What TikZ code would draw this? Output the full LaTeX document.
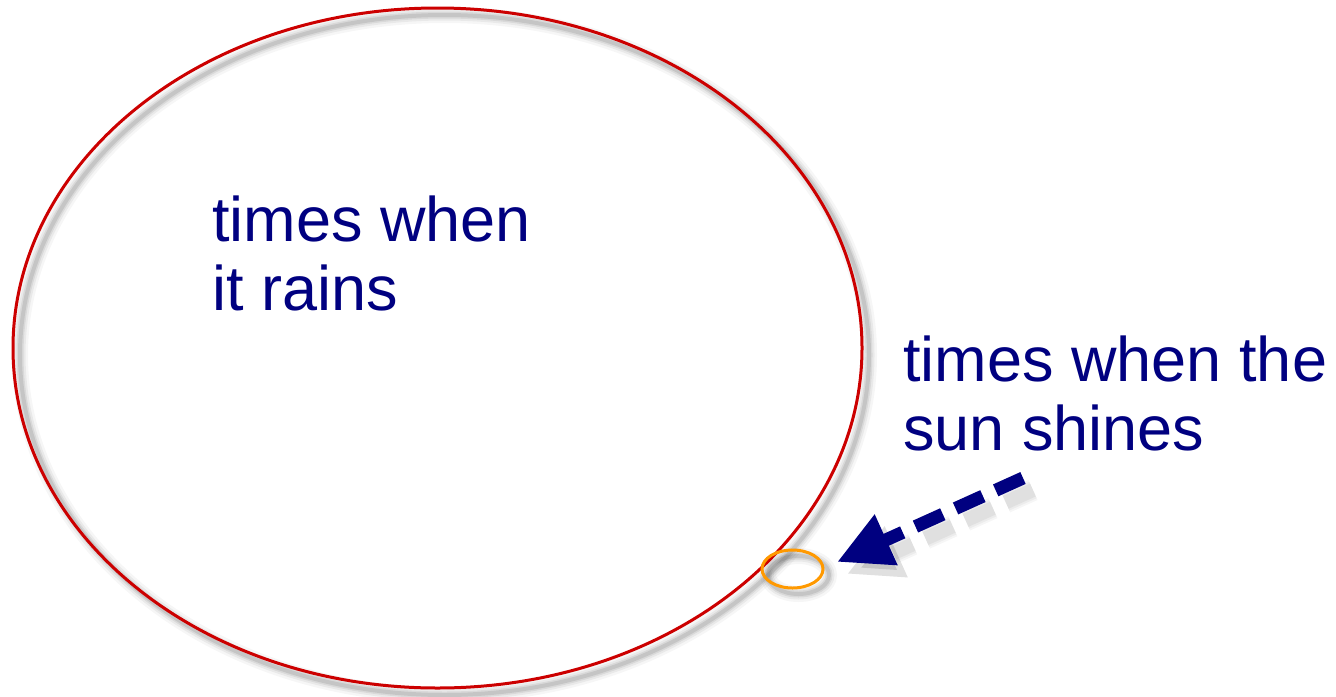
\documentclass[tikz,border=0pt]{standalone}
\usepackage{fontspec}
\setmainfont{Liberation Sans}
\usetikzlibrary{shapes.geometric,arrows.meta}
\definecolor{navyblue}{HTML}{000080}
\definecolor{ringred}{HTML}{CC0000}
\definecolor{sunorange}{HTML}{FF9900}
\begin{document}
\begin{tikzpicture}[x=0.5pt,y=-0.5pt,
  lbl/.style={text=navyblue, font=\fontsize{31.5pt}{34.5pt}\selectfont, align=left, inner sep=0pt, anchor=base west},
  ringbox/.style={ellipse, draw=ringred, line width=1.5pt, minimum width=424.5pt, minimum height=340pt, inner sep=0pt},
  sunbox/.style={ellipse, draw=sunorange, line width=1.5pt, minimum width=30.5pt, minimum height=19pt, inner sep=0pt},
  soft/.style={draw=black, opacity=#1},
  pointer/.style={navyblue, line width=6.5pt, dash pattern=on 15pt off 7pt, -{Triangle[length=27pt,width=26pt]}}
]
\useasboundingbox (0,0) rectangle (1336,696);
% shadows
\foreach \w/\o in {8/0.035, 5.5/0.05, 3.5/0.07, 2/0.09}{
  \draw[soft=\o, line width=\w pt] (444.5,355) ellipse [x radius=212.25pt, y radius=170pt];
  \draw[soft=\o, line width=\w pt] (798.5,575) ellipse [x radius=15.25pt, y radius=9.5pt];
}
\coordinate (tail) at (1023,478);
\coordinate (tip) at (837,562);
\foreach \w/\o in {11/0.035, 9/0.04, 7/0.05}{
  \draw[soft=\o, line width=\w pt, dash pattern=on 15pt off 7pt, -{Triangle[length=27pt,width=26pt]}] ([shift={(10,12)}]tail) -- ([shift={(10,12)}]tip);
}
% main shapes
\node[ringbox] (rain) at (437.5,348) {};
\node[sunbox] (sun) at (792.5,569) {};
\draw[pointer] (tail) -- (tip);
% labels
\node[lbl] (raintext) at (212,310) {times when\\it rains};
\node[lbl] (suntext) at (903,450) {times when the\\sun shines};
\end{tikzpicture}
\end{document}
